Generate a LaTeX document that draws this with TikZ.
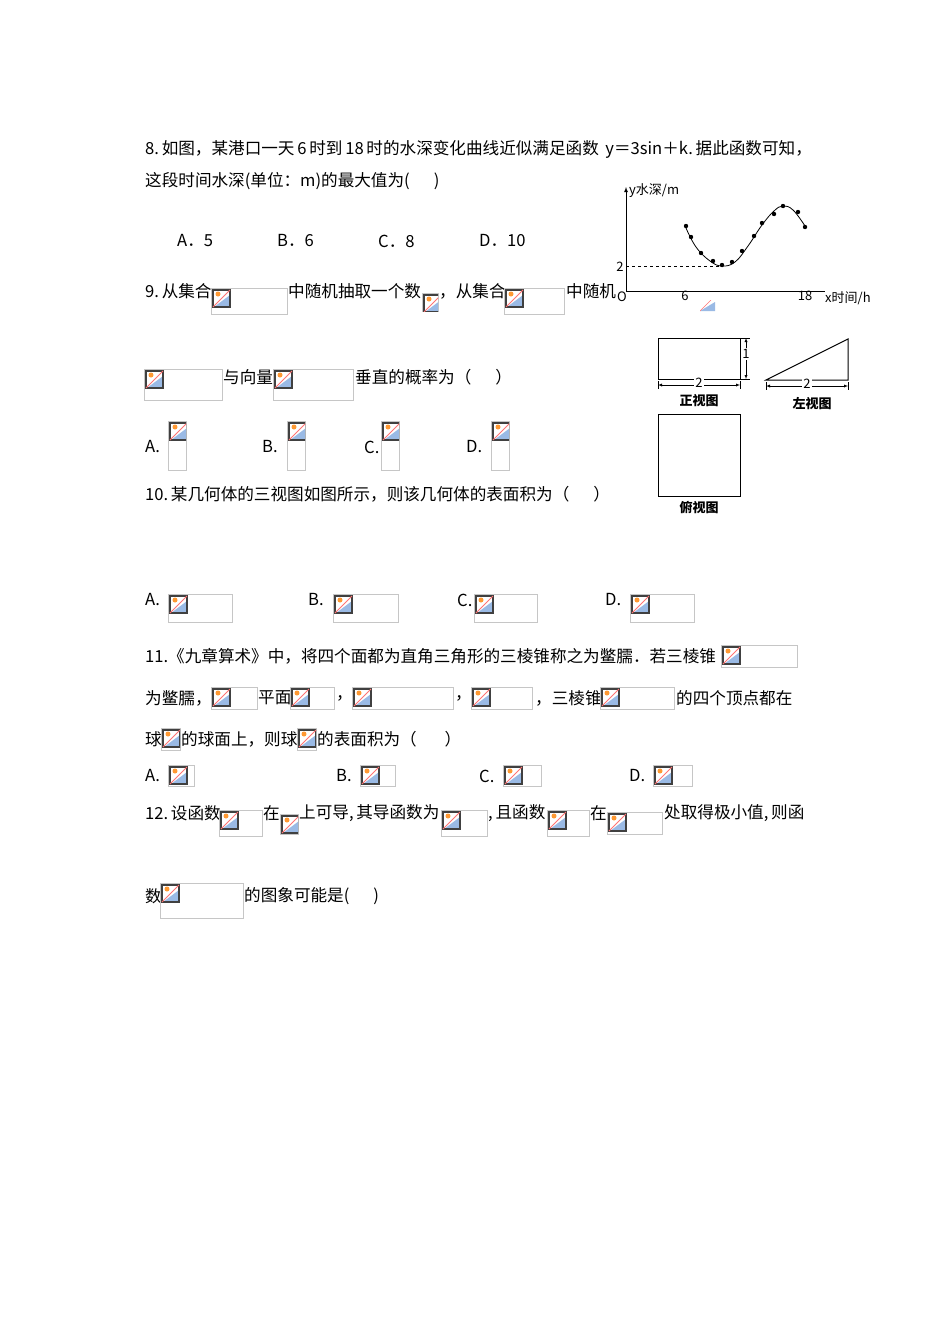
\documentclass[tikz,border=0pt]{standalone}
\usepackage{fontspec}
\setmainfont{Noto Sans CJK SC}
\begin{document}
\begin{tikzpicture}[x=1pt,y=-1pt,
  t/.style={anchor=west,inner sep=0pt,font=\fontsize{16.6}{19}\selectfont},
  s/.style={inner sep=0pt,font=\fontsize{13}{15}\selectfont}]
\useasboundingbox[fill=white] (0,0) rectangle (950,1344);
\newcommand\bimg[4]{%
  \draw[gray!45] (#1,#2) rectangle (#3,#4);
  \begin{scope}
  \clip (#1,#2) rectangle (#3,#4);
  \fill[cyan!55!blue!40] (#1+3,#2+19) -- (#1+19,#2+7) -- (#1+19,#2+19) -- cycle;
  \fill[orange!80] (#1+7,#2+6) circle (2.5);
  \draw[black!75,line width=1.2pt] (#1+2,#2+2) rectangle (#1+19,#2+19);
  \draw[red!55,line width=1pt] (#1+2,#2+19) -- (#1+19,#2+2);
  \end{scope}}
% Q8
\node[t] (q8a) at (145,149) {8.\,如图，某港口一天\,6\,时到\,18\,时的水深变化曲线近似满足函数\, y＝3sin＋\textit{k}.\,据此函数可知，};
\node[t] (q8b) at (145,181) {这段时间水深(单位：m)的最大值为(\quad\ \ )};
\node[t] at (177,241) {A．5};
\node[t] at (277,241) {B．6};
\node[t] at (378,241) {C．8};
\node[t] at (479,241) {D．10};
% graph
\draw[-latex,line width=0.8pt] (626,291) -- (626,187);
\draw[line width=0.8pt] (626,291) -- (825,291);
\draw[dashed] (626,266) -- (720,266);
\draw[line width=0.8pt] plot[smooth,tension=0.7] coordinates {(686,228) (696,247) (710,261) (722,266) (735,262) (748,246) (762,225) (774,211) (783,206) (793,210) (805,226)};
\foreach \p in {(686,226),(691,237),(701,253),(713,261),(722,265),(732,262),(742,251),(754,236),(762,223),(774,214),(783,206),(798,212),(805,227)}
  \fill \p circle (2.2);
\node[s,anchor=west] at (629,191) {\textit{y}水深/m};
\node[s] at (620,267) {2};
\node[s] at (622,297) {\textit{O}};
\node[s] at (685,296) {6};
\node[s] at (805,296) {18};
\node[s,anchor=west] at (825,298) {\textit{x}时间/h};
% Q9
\node[t] at (145,291) {9.\,从集合};
\bimg{211}{288}{287}{314}
\node[t] at (288,291) {中随机抽取一个数};
\bimg{422}{293}{438}{311}
\node[t] at (439,291) {，从集合};
\bimg{504}{288}{564}{314}
\node[t] at (566,291) {中随机};
\begin{scope}\clip (700,300) rectangle (715,311);
\fill[cyan!55!blue!40] (700,311) -- (715,302) -- (715,311) -- cycle;
\draw[red!55] (700,311) -- (711,300);\end{scope}
\bimg{144}{369}{222}{400}
\node[t] at (223,377) {与向量};
\bimg{273}{369}{353}{400}
\node[t] at (355,377) {垂直的概率为（\quad\ \ ）};
\node[t] at (145,447) {A.};
\bimg{168}{421}{186}{470}
\node[t] at (262,447) {B.};
\bimg{287}{421}{305}{470}
\node[t] at (364,447) {C.};
\bimg{381}{421}{399}{470}
\node[t] at (466,447) {D.};
\bimg{491}{421}{509}{470}
% three views
\draw[line width=1pt] (658,338) rectangle (740,379);
\draw[latex-latex] (746,338) -- (746,379);
\draw (741,338) -- (750,338) (741,379) -- (750,379);
\node[s,fill=white,inner sep=1pt] at (746,354) {1};
\draw[latex-latex] (658,385) -- (740,385);
\draw (658,381) -- (658,389) (740,381) -- (740,389);
\node[s,fill=white,inner sep=1pt] at (699,383) {2};
\node[s,font=\fontsize{13}{15}\selectfont\bfseries] at (699,401) {正视图};
\draw[line width=1pt] (766,380) -- (848,339) -- (848,380) -- cycle;
\draw[latex-latex] (766,386) -- (848,386);
\draw (766,382) -- (766,390) (848,382) -- (848,390);
\node[s,fill=white,inner sep=1pt] at (807,384) {2};
\node[s,font=\fontsize{13}{15}\selectfont\bfseries] at (812,404) {左视图};
\draw[line width=1pt] (658,414) rectangle (740,496);
\node[s,font=\fontsize{13}{15}\selectfont\bfseries] at (699,508) {俯视图};
% Q10
\node[t] at (145,494) {10.\,某几何体的三视图如图所示，则该几何体的表面积为（\quad\ \ ）};
\node[t] at (145,600) {A.};
\bimg{168}{594}{232}{622}
\node[t] at (308,600) {B.};
\bimg{333}{594}{398}{622}
\node[t] at (457,600) {C.};
\bimg{474}{594}{537}{622}
\node[t] at (605,600) {D.};
\bimg{630}{594}{694}{622}
% Q11
\node[t] at (145,656) {11.《九章算术》中，将四个面都为直角三角形的三棱锥称之为鳖臑．若三棱锥};
\bimg{721}{645}{797}{667}
\node[t] at (145,698) {为鳖臑，};
\bimg{211}{687}{257}{709}
\node[t] at (258,698) {平面};
\bimg{290}{687}{334}{709}
\node[t] at (336,698) {，};
\bimg{352}{687}{453}{709}
\node[t] at (455,698) {，};
\bimg{471}{687}{532}{709}
\node[t] at (535,698) {，三棱锥};
\bimg{600}{687}{674}{709}
\node[t] at (676,698) {的四个顶点都在};
\node[t] at (145,739) {球};
\bimg{161}{728}{180}{750}
\node[t] at (181,739) {的球面上，则球};
\bimg{297}{728}{316}{750}
\node[t] at (317,739) {的表面积为（\quad\ \ \ ）};
\node[t] at (145,776) {A.};
\bimg{168}{765}{194}{786}
\node[t] at (336,776) {B.};
\bimg{360}{765}{395}{786}
\node[t] at (479,776) {C.};
\bimg{503}{765}{541}{786}
\node[t] at (629,776) {D.};
\bimg{653}{765}{692}{786}
% Q12
\node[t] at (145,813) {12.\,设函数};
\bimg{219}{810}{262}{836}
\node[t] at (263,813) {在};
\bimg{280}{814}{298}{834}
\node[t] at (299,813) {上可导,\,其导函数为};
\bimg{441}{810}{487}{836}
\node[t] at (488,813) {,\,且函数};
\bimg{547}{810}{589}{836}
\node[t] at (590,813) {在};
\bimg{607}{812}{662}{834}
\node[t] at (664,813) {处取得极小值,\,则函};
\node[t] at (145,896) {数};
\bimg{160}{883}{243}{918}
\node[t] at (244,896) {的图象可能是(\quad\ \ )};
\end{tikzpicture}
\end{document}
